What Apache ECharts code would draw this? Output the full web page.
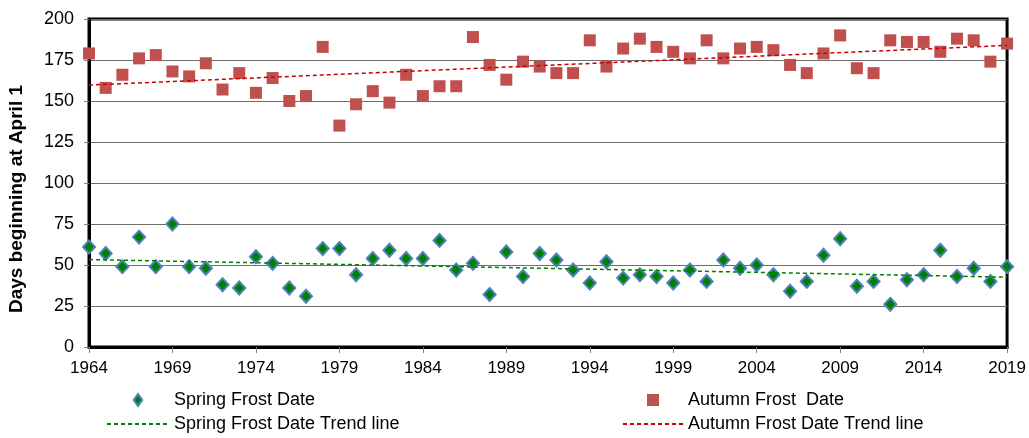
<!DOCTYPE html>
<html>
<head>
<meta charset="utf-8">
<script src="https://cdn.jsdelivr.net/npm/echarts@6/dist/echarts.min.js"></script>
<style>
  html, body { margin: 0; padding: 0; background: #fff; }
  #chart { width: 1029px; height: 438px; }
</style>
</head>
<body>
<div id="chart"></div>
<script>
// years on the x axis (one category per season)
var years = [
  '1964','1965','1966','1967','1968','1969','1970','1971','1972','1973',
  '1974','1975','1976','1977','1978','1979','1980','1981','1982','1983',
  '1984','1985','1986','1987','1988','1989','1990','1991','1992','1993',
  '1994','1995','1996','1997','1998','1999','2000','2001','2002','2003',
  '2004','2005','2006','2007','2008','2009','2010','2011','2012','2013',
  '2014','2015','2016','2017','2018','2019'
];

// days after April 1
var springFrost = [
  61, 57, 49, 67, 49, 75, 49, 48, 38, 36,
  55, 51, 36, 31, 60, 60, 44, 54, 59, 54,
  54, 65, 47, 51, 32, 58, 43, 57, 53, 47,
  39, 52, 42, 44, 43, 39, 47, 40, 53, 48,
  50, 44, 34, 40, 56, 66, 37, 40, 26, 41,
  44, 59, 43, 48, 40, 49
];
var autumnFrost = [
  179, 158, 166, 176, 178, 168, 165, 173, 157, 167,
  155, 164, 150, 153, 183, 135, 148, 156, 149, 166,
  153, 159, 159, 189, 172, 163, 174, 171, 167, 167,
  187, 171, 182, 188, 183, 180, 176, 187, 176, 182,
  183, 181, 172, 167, 179, 190, 170, 167, 187, 186,
  186, 180, 188, 187, 174, 185
];

// trend line end points (first year, last year)
var trendYears = ['1964', '2019'];
var springTrend = [53.3, 42.6];
var autumnTrend = [159.7, 183.9];

var font = "'Liberation Sans', Arial, sans-serif";

var chart = echarts.init(document.getElementById('chart'));

chart.setOption({
  animation: false,
  textStyle: { fontFamily: font },
  grid: {
    left: 89, right: 20, top: 19, bottom: 91,
    show: true, borderColor: '#000', borderWidth: 3
  },
  xAxis: {
    type: 'category',
    data: years,
    boundaryGap: false,
    axisLine: { lineStyle: { color: '#000', width: 3 } },
    axisTick: { interval: 4, length: 6, lineStyle: { color: '#808080' } },
    axisLabel: { interval: 4, fontSize: 17, color: '#000', margin: 13, fontFamily: font },
    splitLine: { show: false }
  },
  yAxis: {
    type: 'value',
    min: 0, max: 200, interval: 25,
    axisLine: { show: true, lineStyle: { color: '#000', width: 3 } },
    axisTick: { show: true, length: 5, lineStyle: { color: '#808080' } },
    axisLabel: { fontSize: 18, color: '#000', margin: 15, fontFamily: font },
    splitLine: { lineStyle: { color: '#6e6e6e', width: 1 } }
  },
  graphic: [{
    type: 'text',
    x: 17, y: 199,
    rotation: Math.PI / 2,
    style: {
      text: 'Days beginning at April 1',
      font: 'bold 19px ' + font,
      fill: '#000',
      align: 'center',
      verticalAlign: 'middle'
    }
  }],
  legend: [{
    orient: 'vertical',
    left: 106, top: 391, padding: 0,
    itemWidth: 62, itemHeight: 12, itemGap: 6,
    textStyle: { fontSize: 18, color: '#000', fontFamily: font },
    data: [
      { name: 'Spring Frost Date', icon: 'path://M5,0L10,7L5,14L0,7Z' },
      { name: 'Spring Frost Date Trend line', itemStyle: { opacity: 0 } }
    ]
  }, {
    orient: 'vertical',
    left: 622, top: 391, padding: 0,
    itemWidth: 60, itemHeight: 12, itemGap: 6,
    textStyle: { fontSize: 18, color: '#000', fontFamily: font },
    data: [
      { name: 'Autumn Frost  Date', icon: 'path://M0,0H11V11H0Z' },
      { name: 'Autumn Frost Date Trend line', itemStyle: { opacity: 0 } }
    ]
  }],
  series: [{
    name: 'Spring Frost Date',
    type: 'scatter',
    data: springFrost,
    symbol: 'diamond',
    symbolSize: [12, 13],
    itemStyle: { color: '#008000', borderColor: '#4f81bd', borderWidth: 2, opacity: 1 },
    z: 3
  }, {
    name: 'Autumn Frost  Date',
    type: 'scatter',
    data: autumnFrost,
    symbol: 'rect',
    symbolSize: 12,
    itemStyle: { color: '#c0504d', opacity: 1 },
    z: 3
  }, {
    name: 'Spring Frost Date Trend line',
    type: 'line',
    data: [[trendYears[0], springTrend[0]], [trendYears[1], springTrend[1]]],
    symbol: 'none',
    lineStyle: { color: '#008000', width: 1.5, type: [4, 3] },
    itemStyle: { color: '#008000' },
    z: 4
  }, {
    name: 'Autumn Frost Date Trend line',
    type: 'line',
    data: [[trendYears[0], autumnTrend[0]], [trendYears[1], autumnTrend[1]]],
    symbol: 'none',
    lineStyle: { color: '#cc0000', width: 1.5, type: [4, 3] },
    itemStyle: { color: '#cc0000' },
    z: 4
  }]
});
</script>
</body>
</html>
